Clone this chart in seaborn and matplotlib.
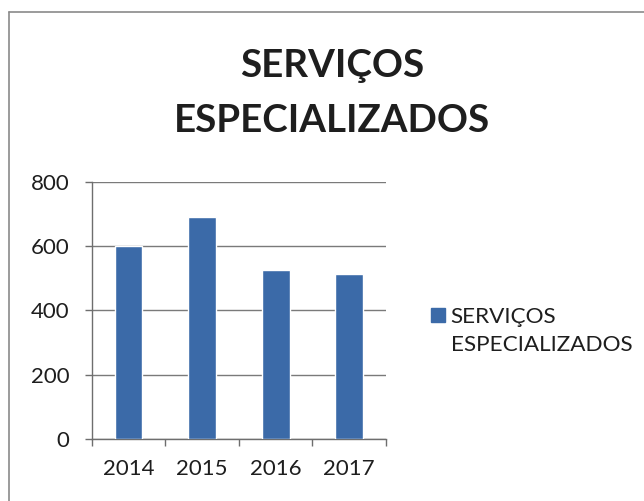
import matplotlib
matplotlib.use("Agg")
import matplotlib.pyplot as plt
from matplotlib.lines import Line2D
import seaborn as sns
import pandas as pd

years = ["2014", "2015", "2016", "2017"]
values = [600, 690, 525, 512]
title_text = "SERVIÇOS\nESPECIALIZADOS"
legend_lines = ["SERVIÇOS", "ESPECIALIZADOS"]
yticks = [0, 200, 400, 600, 800]

bar_color = "#3b6aa8"
text_color = "#1e1e1e"
axis_color = "#6e6e6e"

sns.set_theme(style="white")
plt.rcParams["font.family"] = ["Lato", "DejaVu Sans"]

df = pd.DataFrame({"ano": years, "valor": values})

fig = plt.figure(figsize=(6.44, 5.01), dpi=100)
ax = fig.add_axes([0.1424, 0.1232, 0.457, 0.5141])

sns.barplot(data=df, x="ano", y="valor", color=bar_color, width=0.38,
            saturation=1, ax=ax, zorder=3)

ax.set_ylim(0, 800)
ax.set_xlim(-0.5, len(years) - 0.5)
ax.set_yticks(yticks)
ax.set_yticklabels([str(v) for v in yticks])
ax.set_xlabel("")
ax.set_ylabel("")

# horizontal gridlines
ax.yaxis.grid(True, color="#7a7a7a", linewidth=1.0, zorder=0)
ax.set_axisbelow(True)

for side in ["top", "right"]:
    ax.spines[side].set_visible(False)
for side in ["left", "bottom"]:
    ax.spines[side].set_color(axis_color)
    ax.spines[side].set_linewidth(1.0)

ax.tick_params(axis="y", which="major", length=5, width=1, color=axis_color,
               left=True, pad=11, labelsize=16, labelcolor=text_color)
# year labels centred under bars, tick marks on category boundaries
ax.set_xticks(list(range(len(years))))
ax.set_xticklabels(years)
ax.tick_params(axis="x", which="major", length=0, pad=14.5,
               labelsize=16, labelcolor=text_color)
ax.set_xticks([i - 0.5 for i in range(len(years) + 1)], minor=True)
ax.tick_params(axis="x", which="minor", length=5, width=1, color=axis_color,
               bottom=True)

fig.text(0.5155, 0.814, title_text, ha="center", va="center", fontsize=27.7,
         fontweight="bold", color=text_color, linespacing=1.75)

# legend: square swatch beside the first line of the series name
swatch = Line2D([], [], marker="s", linestyle="none", markersize=9.5,
                markerfacecolor=bar_color, markeredgecolor=bar_color)
blank = Line2D([], [], linestyle="none", marker=None)
leg = fig.legend([swatch, blank], legend_lines, loc="upper left",
                 bbox_to_anchor=(0.669, 0.387), frameon=False,
                 fontsize=16.2, handlelength=0.6, handletextpad=0.28,
                 labelspacing=0.36, borderpad=0, borderaxespad=0)
for t in leg.get_texts():
    t.set_color(text_color)

# outer chart border
fig.add_artist(Line2D([0.014, 0.014], [0.0, 0.976], color="#8a8a8a",
                      linewidth=1.2, transform=fig.transFigure))
fig.add_artist(Line2D([0.014, 1.0], [0.976, 0.976], color="#8a8a8a",
                      linewidth=1.2, transform=fig.transFigure))

fig.savefig("out.png", dpi=100, facecolor="white")
